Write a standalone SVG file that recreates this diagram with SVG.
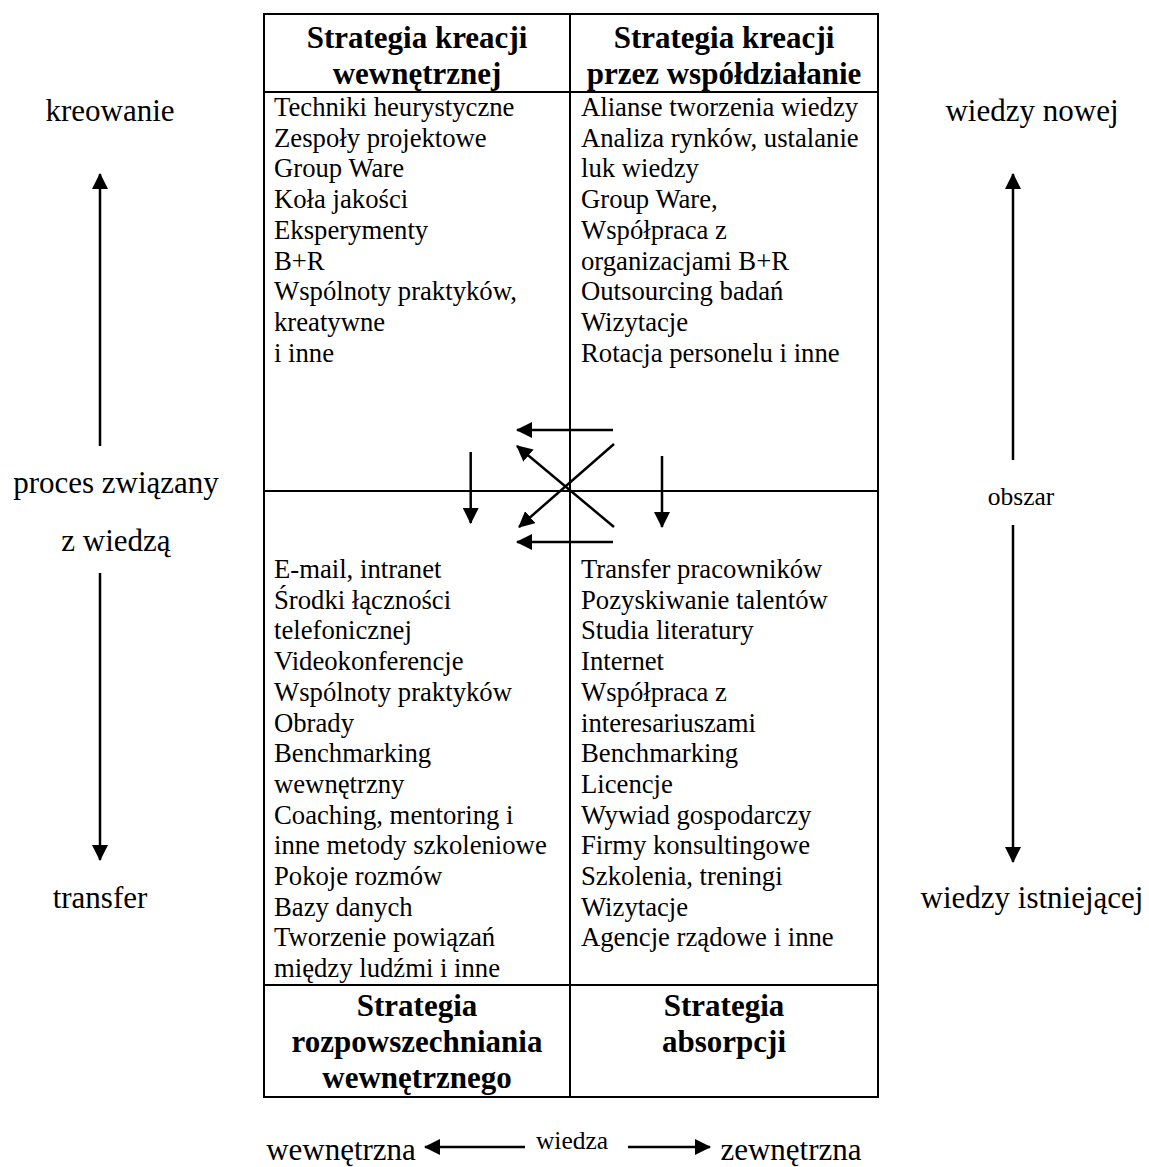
<svg xmlns="http://www.w3.org/2000/svg" width="1149" height="1167" viewBox="0 0 1149 1167">
<style>
.b{font-family:"Liberation Serif","Times New Roman",serif;font-size:26.7px;fill:#000}
.h{font-family:"Liberation Serif","Times New Roman",serif;font-size:31px;font-weight:bold;fill:#000;text-anchor:middle}
.s{font-family:"Liberation Serif","Times New Roman",serif;font-size:31px;fill:#000;text-anchor:middle}
.sm{font-family:"Liberation Serif","Times New Roman",serif;font-size:25.5px;fill:#000;text-anchor:middle}
.ln{stroke:#000;stroke-width:2;fill:none}
.ar{stroke:#000;stroke-width:2.5;fill:none;marker-end:url(#ah)}
</style>
<defs>
<marker id="ah" viewBox="0 0 16 16" refX="15" refY="8" markerWidth="16" markerHeight="16" markerUnits="userSpaceOnUse" orient="auto">
<path d="M0,0 L16,8 L0,16 z" fill="#000"/>
</marker>
</defs>
<rect width="1149" height="1167" fill="#fff"/>
<g id="table">
<rect x="264" y="14" width="614" height="1083" class="ln"/>
<line x1="570" y1="14" x2="570" y2="1097" class="ln"/>
<line x1="264" y1="92" x2="878" y2="92" class="ln"/>
<line x1="264" y1="491" x2="878" y2="491" class="ln"/>
<line x1="264" y1="985" x2="878" y2="985" class="ln"/>
</g>
<g id="node-kreacja-wewnetrzna">
<text class="h" x="417" y="48">Strategia kreacji</text>
<text class="h" x="417" y="84">wewnętrznej</text>
<text class="b" x="274" y="116">Techniki heurystyczne</text>
<text class="b" x="274" y="146.7">Zespoły projektowe</text>
<text class="b" x="274" y="177.4">Group Ware</text>
<text class="b" x="274" y="208.1">Koła jakości</text>
<text class="b" x="274" y="238.8">Eksperymenty</text>
<text class="b" x="274" y="269.5">B+R</text>
<text class="b" x="274" y="300.2">Wspólnoty praktyków,</text>
<text class="b" x="274" y="330.9">kreatywne</text>
<text class="b" x="274" y="361.6">i inne</text>
</g>
<g id="node-kreacja-wspoldzialanie">
<text class="h" x="724" y="48">Strategia kreacji</text>
<text class="h" x="724" y="84">przez współdziałanie</text>
<text class="b" x="581" y="116">Alianse tworzenia wiedzy</text>
<text class="b" x="581" y="146.7">Analiza rynków, ustalanie</text>
<text class="b" x="581" y="177.4">luk wiedzy</text>
<text class="b" x="581" y="208.1">Group Ware,</text>
<text class="b" x="581" y="238.8">Współpraca z</text>
<text class="b" x="581" y="269.5">organizacjami B+R</text>
<text class="b" x="581" y="300.2">Outsourcing badań</text>
<text class="b" x="581" y="330.9">Wizytacje</text>
<text class="b" x="581" y="361.6">Rotacja personelu i inne</text>
</g>
<g id="node-rozpowszechnianie">
<text class="b" x="274" y="578">E-mail, intranet</text>
<text class="b" x="274" y="608.7">Środki łączności</text>
<text class="b" x="274" y="639.4">telefonicznej</text>
<text class="b" x="274" y="670.1">Videokonferencje</text>
<text class="b" x="274" y="700.8">Wspólnoty praktyków</text>
<text class="b" x="274" y="731.5">Obrady</text>
<text class="b" x="274" y="762.2">Benchmarking</text>
<text class="b" x="274" y="792.9">wewnętrzny</text>
<text class="b" x="274" y="823.6">Coaching, mentoring i</text>
<text class="b" x="274" y="854.3">inne metody szkoleniowe</text>
<text class="b" x="274" y="885">Pokoje rozmów</text>
<text class="b" x="274" y="915.7">Bazy danych</text>
<text class="b" x="274" y="946.4">Tworzenie powiązań</text>
<text class="b" x="274" y="977.1">między ludźmi i inne</text>
<text class="h" x="417" y="1016">Strategia</text>
<text class="h" x="417" y="1052">rozpowszechniania</text>
<text class="h" x="417" y="1088">wewnętrznego</text>
</g>
<g id="node-absorpcja">
<text class="b" x="581" y="578">Transfer pracowników</text>
<text class="b" x="581" y="608.7">Pozyskiwanie talentów</text>
<text class="b" x="581" y="639.4">Studia literatury</text>
<text class="b" x="581" y="670.1">Internet</text>
<text class="b" x="581" y="700.8">Współpraca z</text>
<text class="b" x="581" y="731.5">interesariuszami</text>
<text class="b" x="581" y="762.2">Benchmarking</text>
<text class="b" x="581" y="792.9">Licencje</text>
<text class="b" x="581" y="823.6">Wywiad gospodarczy</text>
<text class="b" x="581" y="854.3">Firmy konsultingowe</text>
<text class="b" x="581" y="885">Szkolenia, treningi</text>
<text class="b" x="581" y="915.7">Wizytacje</text>
<text class="b" x="581" y="946.4">Agencje rządowe i inne</text>
<text class="h" x="724" y="1016">Strategia</text>
<text class="h" x="724" y="1052">absorpcji</text>
</g>
<g id="node-proces">
<text class="s" x="110" y="121">kreowanie</text>
<text class="s" x="116" y="493">proces związany</text>
<text class="s" x="116" y="551">z wiedzą</text>
<text class="s" x="100" y="908">transfer</text>
</g>
<g id="node-obszar">
<text class="s" x="1032" y="121">wiedzy nowej</text>
<text class="sm" x="1021" y="505">obszar</text>
<text class="s" x="1032" y="908">wiedzy istniejącej</text>
</g>
<g id="node-wiedza">
<text class="s" x="341" y="1160">wewnętrzna</text>
<text class="sm" x="572" y="1149">wiedza</text>
<text class="s" x="791" y="1160">zewnętrzna</text>
</g>
<g id="connectors">
<line class="ar" x1="100" y1="446" x2="100" y2="174"/>
<line class="ar" x1="100" y1="573" x2="100" y2="860"/>
<line class="ar" x1="1013" y1="460" x2="1013" y2="174"/>
<line class="ar" x1="1013" y1="525" x2="1013" y2="862"/>
<line class="ar" x1="525" y1="1147" x2="425" y2="1147"/>
<line class="ar" x1="628" y1="1147" x2="710" y2="1147"/>
<line class="ar" x1="613" y1="430" x2="517" y2="430"/>
<line class="ar" x1="613" y1="542" x2="517" y2="542"/>
<line class="ar" x1="614" y1="527" x2="517" y2="446"/>
<line class="ar" x1="614" y1="444" x2="519" y2="527"/>
<line class="ar" x1="470.7" y1="452" x2="470.7" y2="523"/>
<line class="ar" x1="662" y1="456" x2="662" y2="527"/>
</g>
</svg>
